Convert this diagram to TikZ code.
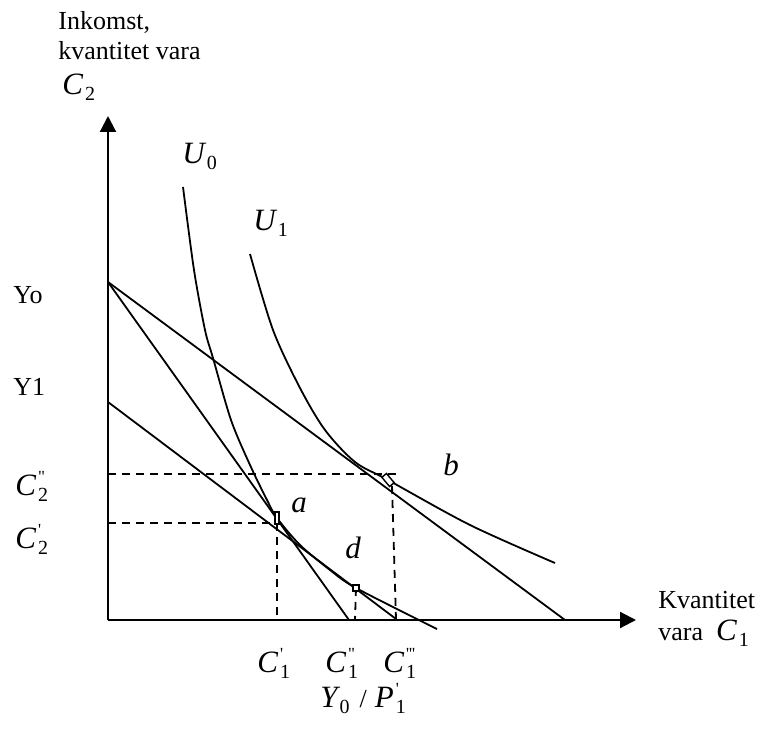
\documentclass[tikz,border=0pt]{standalone}
\usepackage{fontspec}
\setmainfont{Liberation Serif}
\newfontfamily\plainserif{Liberation Serif}
\usetikzlibrary{arrows.meta}

% italic letter, subscript and (optional) prime stacked above it
\newcommand{\qsym}[3]{{\fontsize{15.5}{18}\selectfont\itshape #1}\kern1pt\rlap{\raisebox{6.5pt}{\fontsize{8.5}{10}\selectfont\plainserif #3}}\raisebox{-3pt}{\fontsize{10}{12}\selectfont #2}}

\begin{document}
\begin{tikzpicture}[x=0.5pt, y=-0.5pt,
    every node/.style={font=\fontsize{13}{15}\selectfont, inner sep=0pt, anchor=base west},
    axis/.style={line width=1.1pt, -{Triangle[length=8pt,width=8pt]}},
    budget/.style={line width=0.9pt},
    indiff/.style={line width=0.9pt},
    guide/.style={line width=0.9pt, dash pattern=on 4pt off 3pt},
    mk/.style={draw, line width=0.7pt, fill=white, minimum size=3pt, anchor=center}
  ]
  \useasboundingbox (0,0) rectangle (760,733);

  % axes
  \coordinate (O) at (108,620);
  \coordinate (ytop) at (108,116);
  \coordinate (xend) at (636,620);
  \draw[axis] (O) -- (ytop);
  \draw[axis] (O) -- (xend);

  % tangency points
  \coordinate (pa) at (277,518);
  \coordinate (pb) at (388,480);
  \coordinate (pd) at (356,588);

  % budget lines
  \coordinate (Yo) at (108,282);
  \coordinate (Y1) at (108,402);
  \coordinate (xa) at (349,620);
  \coordinate (xb) at (565,620);
  \coordinate (xd) at (396,619);
  \draw[budget] (Yo) -- (xa);
  \draw[budget] (Yo) -- (xb);
  \draw[budget] (Y1) -- (xd);

  % indifference curves
  \draw[indiff] plot[smooth] coordinates {(183,187) (194,270) (205,330) (213,358) (231,420) (250,465) (267,500) (pa) (300,545) (330,570) (pd) (437,629)};
  \draw[indiff] plot[smooth] coordinates {(250,254) (273,330) (300,388) (325,430) (355,462) (pb) (470,525) (555,563)};

  % dashed guides
  \coordinate (c2b) at (108,474);
  \coordinate (c2bend) at (398,474);
  \coordinate (c1ctop) at (392,486);
  \coordinate (c1c) at (396,619);
  \coordinate (c2a) at (108,523);
  \coordinate (c2aend) at (277,523);
  \coordinate (c1a) at (277,620);
  \coordinate (c1b) at (355,620);
  \draw[guide] (c2b) -- (c2bend);
  \draw[guide] (c1ctop) -- (c1c);
  \draw[guide] (c2a) -- (c2aend);
  \draw[guide] (c2aend) -- (c1a);
  \draw[guide] (pd) -- (c1b);

  % point marks
  \node[mk, minimum width=2pt, minimum height=6pt, inner sep=0pt] (ma) at (pa) {};
  \node[mk, rotate=40, minimum width=3pt, minimum height=6pt] (mb) at (pb) {};
  \node[mk] (md) at (pd) {};

  % labels
  \node (inc) at (58,30) {Inkomst,};
  \node (qty) at (58,60) {kvantitet vara};
  \node (c2top) at (62,95) {\qsym{C}{2}{}};
  \node (u0) at (182,163) {\qsym{U}{0}{}};
  \node (u1) at (253,230) {\qsym{U}{1}{}};
  \node (lyo) at (13,303) {Yo};
  \node (ly1) at (13,395) {Y1};
  \node (lc2b) at (15,495) {\qsym{C}{2}{"}};
  \node (lc2a) at (15,548) {\qsym{C}{2}{'}};
  \node (la) at (291,512) {\fontsize{15.5}{18}\selectfont\itshape a};
  \node (lb) at (443,475) {\fontsize{15.5}{18}\selectfont\itshape b};
  \node (ld) at (345,558) {\fontsize{15.5}{18}\selectfont\itshape d};
  \node (lc1a) at (257,672) {\qsym{C}{1}{'}};
  \node (lc1b) at (325,672) {\qsym{C}{1}{"}};
  \node (lc1c) at (383,672) {\qsym{C}{1}{'''}};
  \node (lyp) at (320,707) {\qsym{Y}{0}{}\hspace{5pt}/\hspace{4pt}\qsym{P}{1}{'}};
  \node (kv) at (658,608) {Kvantitet};
  \node (vara) at (658,640) {vara \ \qsym{C}{1}{}};
\end{tikzpicture}
\end{document}
